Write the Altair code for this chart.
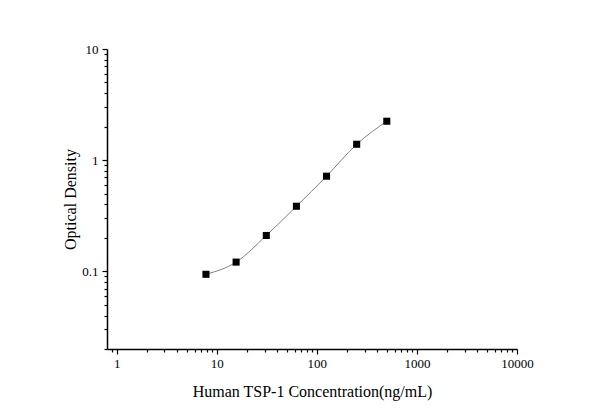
import altair as alt
import pandas as pd

conc = [7.8, 15.6, 31.25, 62.5, 125, 250, 500]
od = [0.094, 0.121, 0.21, 0.385, 0.717, 1.39, 2.24]

x_ticks = [0.9] + [m * 10**e for e in range(0, 4) for m in range(1, 10)] + [10000]
y_ticks = [m * 10**e for e in range(-2, 1) for m in range(2, 10)] + [0.1, 1, 10]
y_ticks = sorted(set([round(v, 6) for v in y_ticks if v >= 0.02]))

df = pd.DataFrame({"conc": conc, "od": od})

is_major = "abs(log(datum.value)/LN10 - round(log(datum.value)/LN10)) < 1e-6"
serif = "Liberation Serif"

x_axis = alt.Axis(
    title="Human TSP-1 Concentration(ng/mL)",
    values=x_ticks,
    labelExpr=f"({is_major}) ? format(datum.value, '~g') : ''",
    tickSize=alt.condition(is_major, alt.value(5), alt.value(3)),
    labelPadding=3,
    titlePadding=13,
)
y_axis = alt.Axis(
    title="Optical Density",
    values=y_ticks,
    labelExpr=f"({is_major}) ? format(datum.value, '~g') : ''",
    tickSize=alt.condition(is_major, alt.value(5), alt.value(3)),
    labelPadding=4,
    titlePadding=3,
)

xs = alt.Scale(type="log", domain=[0.8, 10000], nice=False)
ys = alt.Scale(type="log", domain=[0.02, 10], nice=False)

line = alt.Chart(df).mark_line(color="#808080", strokeWidth=1, interpolate="monotone").encode(
    x=alt.X("conc:Q", scale=xs, axis=x_axis),
    y=alt.Y("od:Q", scale=ys, axis=y_axis),
)
pts = alt.Chart(df).mark_square(color="black", size=50, opacity=1).encode(
    x=alt.X("conc:Q", scale=xs),
    y=alt.Y("od:Q", scale=ys),
)

chart = (line + pts).properties(
    width=410, height=300,
    autosize=alt.AutoSizeParams(type="none"),
    padding={"left": 99, "top": 41, "right": 75, "bottom": 62},
).configure(background="white", font=serif).configure_view(
    strokeWidth=0, stroke="transparent"
).configure_axis(
    grid=False, labelOverlap=False, labelFlush=False,
    labelFont=serif, labelFontSize=13, labelColor="black",
    titleFont=serif, titleFontSize=16, titleFontWeight="normal", titleColor="black",
    domainColor="black", domainWidth=1.5, tickColor="black", tickWidth=1.2,
)

chart.save("out.html", embed_options={"renderer": "svg", "actions": False})
